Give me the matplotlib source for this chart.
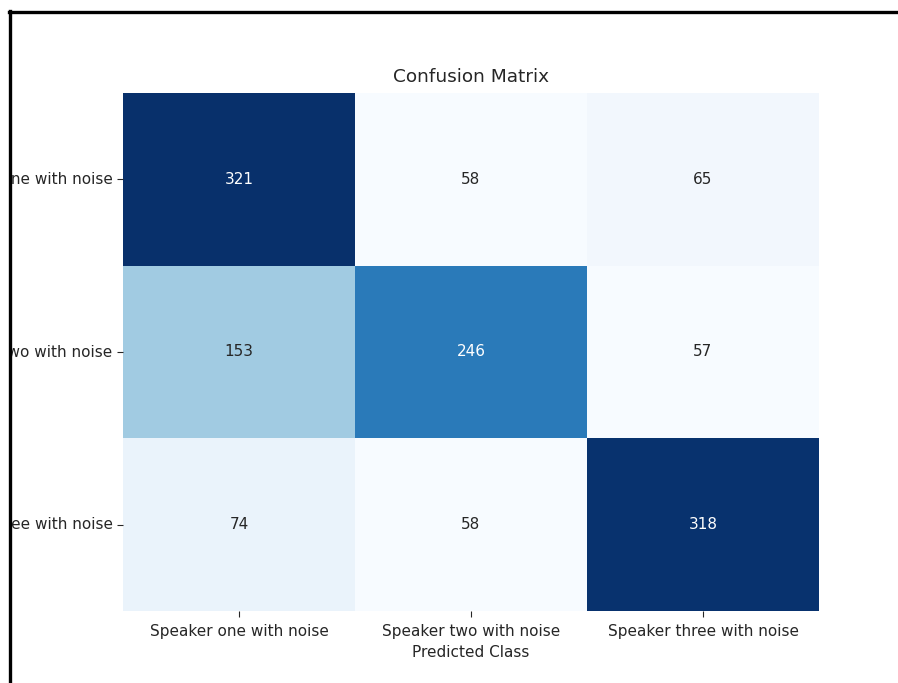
import matplotlib
matplotlib.use("Agg")
import matplotlib.pyplot as plt
import seaborn as sns
import numpy as np
from matplotlib.lines import Line2D
from matplotlib.patches import Rectangle

classes = ["Speaker one with noise", "Speaker two with noise", "Speaker three with noise"]
row_one = [321, 58, 65]
row_two = [153, 246, 57]
row_three = [74, 58, 318]
cm = np.array([row_one, row_two, row_three])

TXT = "#262626"
W, H = 898, 683
fig = plt.figure(figsize=(W / 100, H / 100), dpi=100)
ax = fig.add_axes([123 / W, 1 - 611 / H, (819 - 123) / W, (611 - 93) / H])
sns.heatmap(cm, annot=True, fmt="d", cmap="Blues", cbar=False, ax=ax,
            xticklabels=classes, yticklabels=classes, annot_kws={"fontsize": 11})
ax.set_title("Confusion Matrix", fontsize=13.3, color=TXT, pad=8)
ax.set_xlabel("Predicted Class", fontsize=11, color=TXT, labelpad=4)
ax.tick_params(axis="x", labelsize=11, labelcolor=TXT, color=TXT, length=4.5, pad=5)
ax.tick_params(axis="y", labelsize=11, labelcolor=TXT, color=TXT, length=4, pad=3.5)
plt.setp(ax.get_yticklabels(), rotation=0)

# screenshot frame: white margin + black border at top/left
fig.patches.append(Rectangle((0, 0), 11 / W, 1, transform=fig.transFigure,
                             facecolor="white", edgecolor="none", zorder=10))
fig.patches.append(Rectangle((0, 1 - 11 / H), 1, 11 / H, transform=fig.transFigure,
                             facecolor="white", edgecolor="none", zorder=10))
fig.lines.append(Line2D([9.5 / W, 9.5 / W], [0, 1 - 11 / H], transform=fig.transFigure,
                        color="black", lw=2.4, zorder=11))
fig.lines.append(Line2D([8.5 / W, 1], [1 - 11.5 / H, 1 - 11.5 / H], transform=fig.transFigure,
                        color="black", lw=2.4, zorder=11))

fig.savefig("out.png", dpi=100)
